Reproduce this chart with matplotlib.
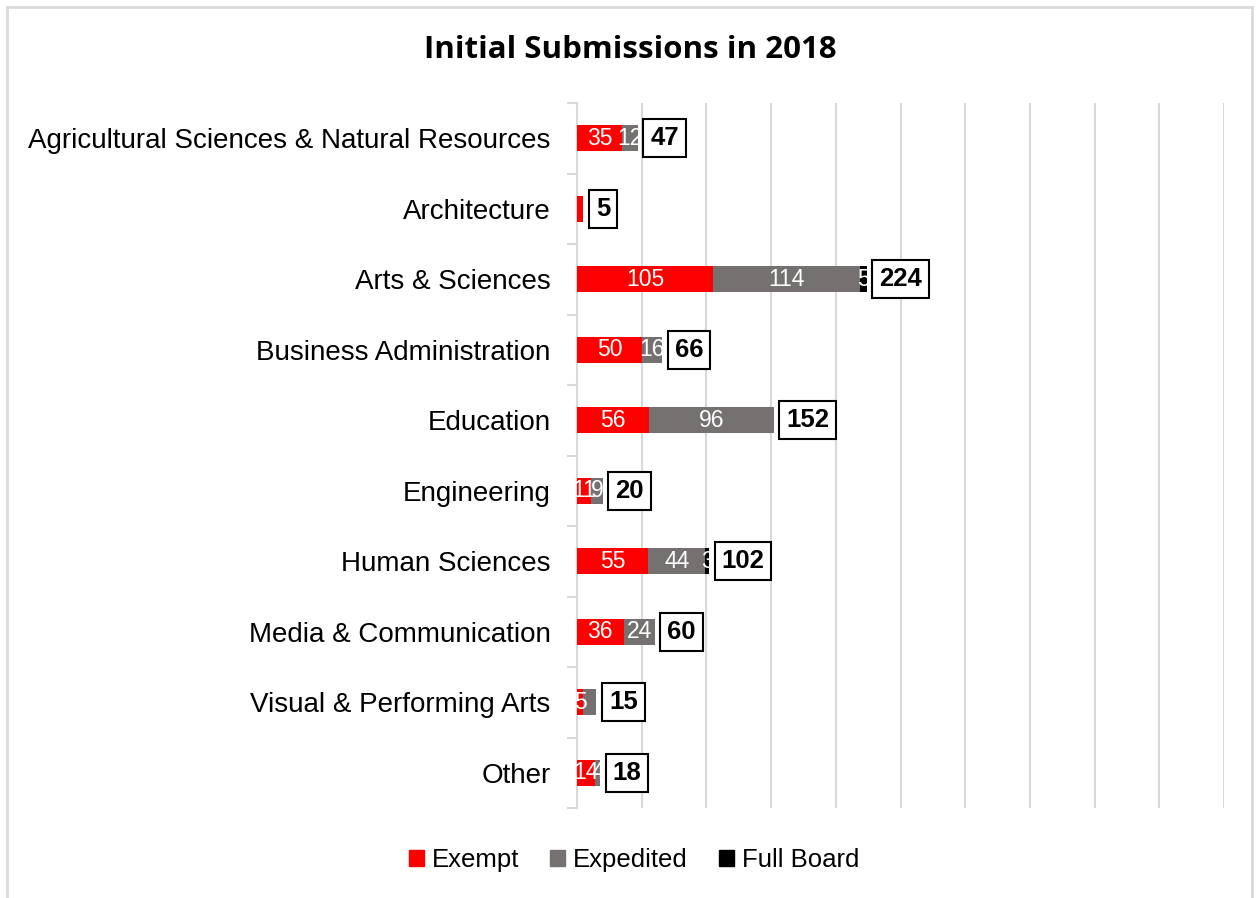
import matplotlib
matplotlib.use("Agg")
import matplotlib.pyplot as plt
from matplotlib.patches import Rectangle
import numpy as np

categories = ["Agricultural Sciences & Natural Resources", "Architecture", "Arts & Sciences",
              "Business Administration", "Education", "Engineering", "Human Sciences",
              "Media & Communication", "Visual & Performing Arts", "Other"]
exempt = [35, 5, 105, 50, 56, 11, 55, 36, 5, 14]
expedited = [12, 0, 114, 16, 96, 9, 44, 24, 10, 4]
full_board = [0, 0, 5, 0, 0, 0, 3, 0, 0, 0]
series_names = ["Exempt", "Expedited", "Full Board"]
hidden_labels = [("Visual & Performing Arts", "Expedited"), ("Architecture", "Exempt")]

colors = ["#FF0000", "#767171", "#000000"]
totals = [a + b + c for a, b, c in zip(exempt, expedited, full_board)]

plt.rcParams['font.family'] = ['Liberation Sans', 'DejaVu Sans']
fig = plt.figure(figsize=(12.59, 8.98), dpi=100)
W, H = 1259, 898
ax = fig.add_axes([577 / W, 1 - 808 / H, (1224 - 577) / W, (808 - 103) / H])

y = np.arange(len(categories))
left = np.zeros(len(categories))
for name, vals, col in zip(series_names, [exempt, expedited, full_board], colors):
    vals = np.array(vals, dtype=float)
    ax.barh(y, vals, left=left, height=0.37, color=col, label=name, zorder=3)
    for i, v in enumerate(vals):
        if v > 0 and (categories[i], name) not in hidden_labels:
            ax.text(left[i] + v / 2, y[i], f"{int(v)}", ha='center', va='center',
                    color='white', fontsize=16.5, zorder=4)
    left += vals

for i, t in enumerate(totals):
    ax.annotate(f"{t}", xy=(t, y[i]), xytext=(9, 0), textcoords='offset points',
                ha='left', va='center', fontsize=18.5, fontweight='bold', color='black',
                bbox=dict(boxstyle='square,pad=0.27', fc='white', ec='black', lw=1.5),
                zorder=5)

ax.set_xlim(0, 500)
ax.set_ylim(len(categories) - 0.5, -0.5)
ax.set_xticks(np.arange(0, 501, 50))
ax.xaxis.grid(True, color='#D9D9D9', lw=1.5, zorder=0)
ax.tick_params(axis='x', length=0, labelbottom=False)
ax.set_yticks(y)
ax.set_yticklabels(categories, fontsize=20)
ax.set_yticks(np.arange(-0.5, len(categories)), minor=True)
ax.tick_params(axis='y', which='major', length=0, pad=19)
ax.tick_params(axis='y', which='minor', length=7, width=1.5, color='#D9D9D9', direction='out')
for s in ['top', 'right', 'bottom']:
    ax.spines[s].set_visible(False)
ax.spines['left'].set_color('#D9D9D9')
ax.spines['left'].set_linewidth(1.5)
ax.set_axisbelow(True)

fig.text(630 / W, 1 - 50 / H, "Initial Submissions in 2018", ha='center', va='center',
         fontsize=22.5, fontweight='bold', family=['Open Sans', 'DejaVu Sans'])

handles = [Rectangle((0, 0), 1, 1, color=c) for c in colors]
fig.legend(handles, series_names, loc='center', bbox_to_anchor=(634 / W, 1 - 860 / H),
           ncol=3, frameon=False, fontsize=18.5, handlelength=0.6, handleheight=0.6,
           handletextpad=0.3, columnspacing=1.2)

fig.add_artist(Rectangle((7 / W, -0.05), (1252 - 7) / W, 1.05 - 7 / H, transform=fig.transFigure,
                         fill=False, ec='#D9D9D9', lw=2))

fig.savefig("out.png", dpi=100)
